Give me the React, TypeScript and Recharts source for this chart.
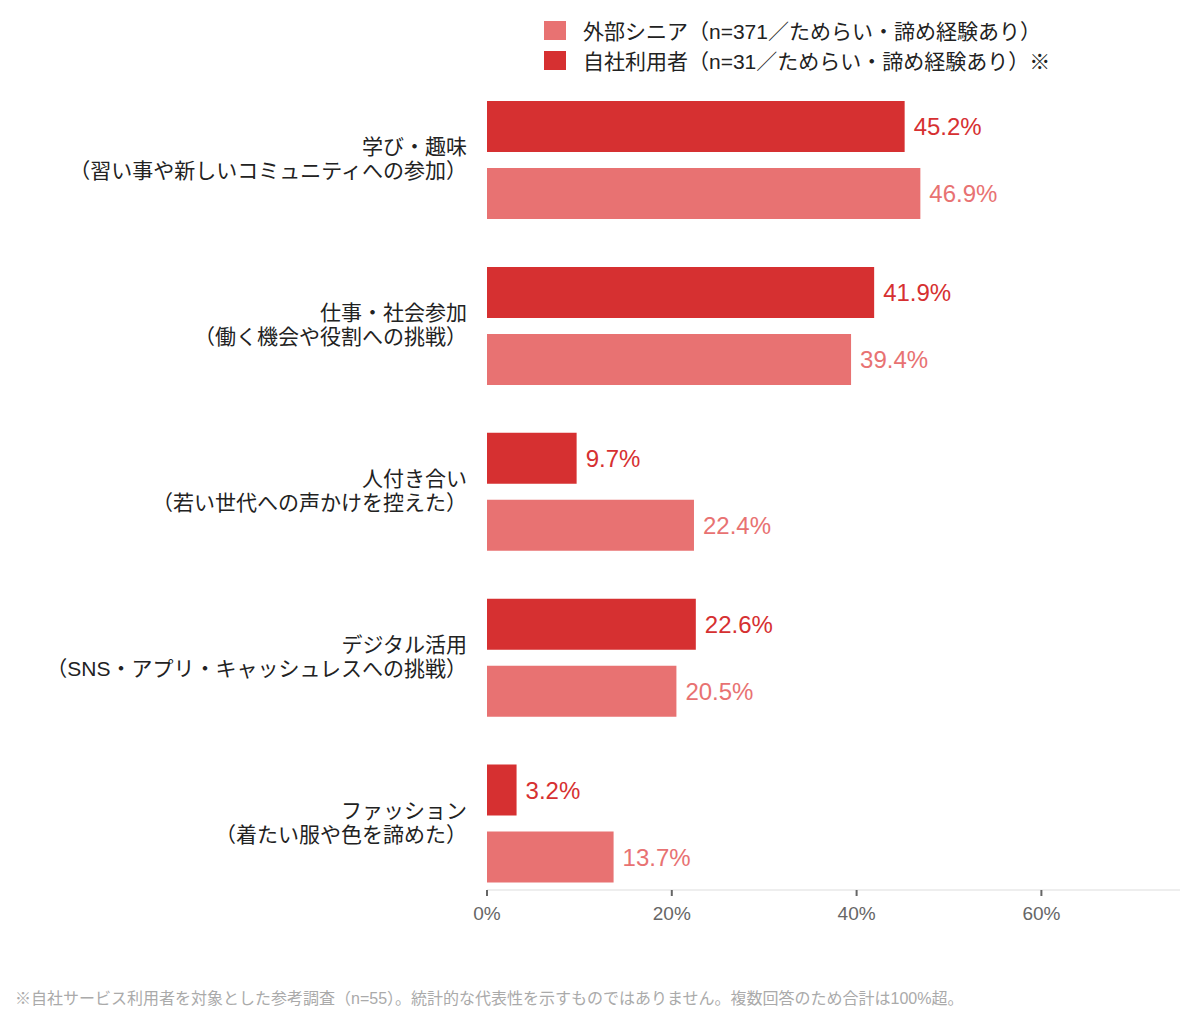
import React from 'react';
import { BarChart, Bar, XAxis, YAxis, LabelList, Legend } from 'recharts';

const categories = [
    '学び・趣味\n（習い事や新しいコミュニティへの参加）',
    '仕事・社会参加\n（働く機会や役割への挑戦）',
    '人付き合い\n（若い世代への声かけを控えた）',
    'デジタル活用\n（SNS・アプリ・キャッシュレスへの挑戦）',
    'ファッション\n（着たい服や色を諦めた）',
];
const ownUsers = [45.2, 41.9, 9.7, 22.6, 3.2];
const externalSeniors = [46.9, 39.4, 22.4, 20.5, 13.7];
const xTicks = [0, 20, 40, 60];

const ownName = '自社利用者（n=31／ためらい・諦め経験あり）※';
const externalName = '外部シニア（n=371／ためらい・諦め経験あり）';
const footnote = '※自社サービス利用者を対象とした参考調査（n=55）。統計的な代表性を示すものではありません。複数回答のため合計は100%超。';

const DARK = '#D63031';
const LIGHT = '#E87272';
const FONT = '"Liberation Sans", "Noto Sans CJK JP", sans-serif';

const chartData = categories.map((name, i) => ({
    name,
    own: ownUsers[i],
    external: externalSeniors[i],
}));

// legend shows the external series first, the reverse of the bar order
const legendItems = [
    { label: externalName, color: LIGHT },
    { label: ownName, color: DARK },
];

const CategoryTick = (props: any) => {
    const { y, payload } = props;
    const [line1, line2] = String(payload.value).split('\n');
    return (
        <text textAnchor="end" fontSize={21} fill="#222" fontFamily={FONT}>
            <tspan x={467} y={y - 6}>{line1}</tspan>
            <tspan x={467} y={y + 18}>{line2}</tspan>
        </text>
    );
};

const LegendContent = () => (
    <div style={{ fontFamily: FONT, fontSize: 21, color: '#222' }}>
        {legendItems.map(item => (
            <div key={item.label} style={{ display: 'flex', alignItems: 'center', height: 30 }}>
                <span style={{ display: 'inline-block', width: 22, height: 19, background: item.color, marginRight: 17 }} />
                <span>{item.label}</span>
            </div>
        ))}
    </div>
);

export default function App() {
    return (
        <div style={{ position: 'absolute', left: 0, top: 0, width: 1195, height: 1023, background: '#fff' }}>
            <BarChart
                layout="vertical"
                width={1195}
                height={1023}
                data={chartData}
                margin={{ top: 77, right: 15, bottom: 93, left: 0 }}
                barSize={51}
                barGap={16}
            >
                <XAxis
                    type="number"
                    domain={[0, 75]}
                    ticks={xTicks}
                    tickFormatter={(v) => `${v}%`}
                    axisLine={{ stroke: '#ddd' }}
                    tickLine={{ stroke: '#666', strokeWidth: 2 }}
                    tickSize={6}
                    tickMargin={11}
                    tick={{ fill: '#666', fontSize: 19, fontFamily: FONT }}
                    height={40}
                />
                <YAxis
                    type="category"
                    dataKey="name"
                    width={487}
                    axisLine={false}
                    tickLine={false}
                    interval={0}
                    tick={<CategoryTick />}
                    padding={{ top: 0, bottom: -16.5 }}
                />
                <Legend
                    layout="vertical"
                    align="center"
                    verticalAlign="middle"
                    content={<LegendContent />}
                    wrapperStyle={{ top: 15, left: 544, width: 'auto' }}
                />
                <Bar dataKey="own" name={ownName} fill={DARK} isAnimationActive={false}>
                    <LabelList
                        dataKey="own"
                        position="right"
                        offset={9}
                        formatter={(v: number) => `${v.toFixed(1)}%`}
                        fill={DARK}
                        fontSize={24}
                        fontFamily={FONT}
                    />
                </Bar>
                <Bar dataKey="external" name={externalName} fill={LIGHT} isAnimationActive={false}>
                    <LabelList
                        dataKey="external"
                        position="right"
                        offset={9}
                        formatter={(v: number) => `${v.toFixed(1)}%`}
                        fill={LIGHT}
                        fontSize={24}
                        fontFamily={FONT}
                    />
                </Bar>
            </BarChart>
            <div
                style={{
                    position: 'absolute',
                    left: 15,
                    top: 988,
                    fontFamily: FONT,
                    fontSize: 16,
                    lineHeight: '22px',
                    color: '#aaa',
                    whiteSpace: 'nowrap',
                }}
            >
                {footnote}
            </div>
        </div>
    );
}
